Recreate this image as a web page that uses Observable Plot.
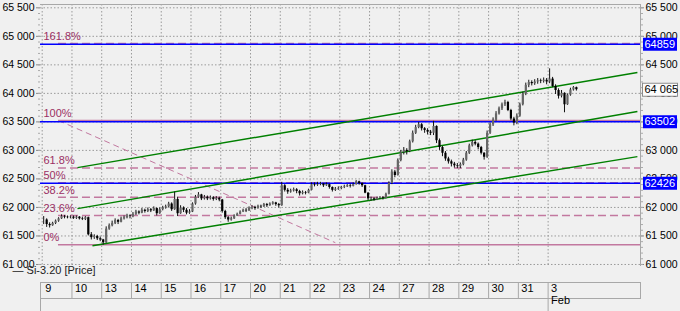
<!DOCTYPE html>
<html><head><meta charset="utf-8">
<script src="https://cdn.jsdelivr.net/npm/d3@7"></script>
<script src="https://cdn.jsdelivr.net/npm/@observablehq/plot@0.6"></script>
<style>
html,body{margin:0;padding:0;background:#f0f0f0;}
#chart svg{display:block;}
</style></head><body><div id="chart"></div>
<script>
// ---- data ----
const dayLabels = ["9","10","13","14","15","16","17","20","21","22","23","24","27","28","29","30","31","3"];
const monthLabel = "Feb";
const seriesName = "Si-3.20 [Price]";
const firstOpen = 61780;
const closes = [
 [61780,61700,61680,61720,61760,61800,61840,61830,61820,61830],
 [61810,61830,61800,61790,61820,61520,61470,61490,61450,61430],
 [61380,61620,61680,61720,61770,61740,61800,61820,61850,61840],
 [61880,61920,61900,61950,61930,61960,61940,61980,61890,61960],
 [61990,62010,62060,61960,62140,61890,61990,61950,61900,61920],
 [62060,62180,62220,62150,62180,62150,62170,62140,62160,62130],
 [61930,61820,61780,61800,61850,61880,61920,61950,61940,61990],
 [62000,61980,62020,62010,62050,62030,62060,62080,62050,62030],
 [62380,62300,62270,62290,62310,62280,62240,62260,62250,62300],
 [62400,62390,62400,62410,62380,62400,62350,62300,62320,62330],
 [62350,62360,62380,62370,62400,62450,62420,62380,62250,62150],
 [62150,62130,62160,62170,62160,62230,62420,62620,62560,62820],
 [62960,63000,62980,63150,63300,63400,63450,63380,63350,63320],
 [63300,63420,63170,63050,62950,62850,62800,62760,62730,62720],
 [62750,62830,62950,63080,63140,63110,63050,62950,62880,63300],
 [63450,63530,63640,63730,63800,63840,63700,63550,63480,63600],
 [63800,63990,64140,64190,64170,64200,64220,64210,64230,64200],
 [64250,64120,64050,63950,64000,63800,63970,64060,64100,64065]
];
const highs = [
 [61840,61800,61730,61740,61780,61820,61870,61860,61850,61850],
 [61850,61850,61840,61830,61840,61830,61560,61520,61510,61480],
 [61440,61660,61710,61760,61800,61790,61830,61850,61880,61870],
 [61910,61950,61940,61980,61970,61990,61980,62010,61990,61990],
 [62020,62040,62090,62080,62270,62180,62030,62010,61980,61960],
 [62080,62210,62260,62230,62210,62200,62200,62190,62190,62180],
 [62140,61950,61840,61830,61870,61900,61940,61970,61980,62010],
 [62030,62020,62040,62040,62070,62070,62080,62100,62090,62070],
 [62440,62400,62330,62320,62340,62330,62300,62290,62280,62320],
 [62430,62430,62440,62440,62420,62430,62410,62360,62350,62360],
 [62370,62390,62400,62410,62430,62470,62460,62430,62390,62260],
 [62180,62170,62180,62190,62190,62250,62450,62660,62650,62850],
 [63000,63050,63030,63180,63340,63440,63490,63470,63400,63380],
 [63350,63510,63430,63200,63070,62980,62880,62830,62790,62770],
 [62780,62860,62980,63110,63180,63170,63130,63070,62960,63340],
 [63480,63570,63680,63760,63830,63880,63860,63720,63580,63640],
 [63830,64020,64180,64230,64220,64240,64260,64250,64270,64260],
 [64430,64280,64150,64080,64050,64010,63990,64090,64120,64110]
];
const lows = [
 [61700,61650,61640,61670,61700,61740,61790,61800,61800,61800],
 [61790,61790,61780,61770,61770,61500,61430,61440,61420,61400],
 [61340,61370,61600,61660,61700,61700,61730,61780,61800,61800],
 [61820,61860,61870,61890,61900,61910,61910,61930,61850,61880],
 [61940,61970,61990,61930,61950,61840,61880,61910,61870,61880],
 [61910,62040,62160,62120,62130,62120,62130,62110,62120,62100],
 [61900,61790,61740,61760,61790,61840,61870,61910,61910,61930],
 [61960,61950,61970,61980,62000,62000,62020,62040,62020,61990],
 [62020,62270,62230,62250,62270,62240,62200,62220,62220,62240],
 [62290,62360,62370,62380,62350,62370,62320,62270,62280,62300],
 [62310,62330,62350,62340,62360,62390,62390,62350,62240,62120],
 [62110,62110,62120,62140,62130,62150,62220,62400,62520,62550],
 [62800,62920,62920,62960,63130,63280,63380,63340,63300,63270],
 [63260,63260,63120,63000,62890,62810,62760,62710,62690,62680],
 [62680,62730,62810,62930,63060,63080,63010,62920,62830,62860],
 [63280,63420,63510,63620,63700,63770,63680,63520,63430,63450],
 [63580,63780,63960,64100,64130,64140,64160,64170,64180,64150],
 [64170,64100,63980,63900,63920,63660,63790,63950,64040,64040]
];
const yTicks = [61000,61500,62000,62500,63000,63500,64000,64500,65000,65500];
const fibPercents = [0, 23.6, 38.2, 50, 61.8, 100, 161.8];
const fibSolid = [0, 100];
const fibLow = 61345, fibHigh = 63525;
const fibStartDay = 0.547;
const fibDiagonal = [{x1: 0.547, y1: 63525, x2: 9.85, y2: 61382}];
const channelLines = [
 {x1: 1.186, y1: 62698, x2: 20.0, y2: 64365},
 {x1: 1.186, y1: 61979, x2: 20.0, y2: 63681},
 {x1: 1.69,  y1: 61330, x2: 20.0, y2: 62891}
];
const blueLevels = [64859, 63502, 62426];
const lastPrice = 64065;

// ---- derived ----
const bars = [];
let prev = firstOpen;
closes.forEach((day, k) => day.forEach((c, j) => {
  bars.push({x: k + (j + 0.5) / 10, o: prev, h: highs[k][j], l: lows[k][j], c});
  prev = c;
}));
const fibs = fibPercents.map(p => ({p, v: fibLow + p / 100 * (fibHigh - fibLow), label: p + "%"}));
const fibsSolid = fibs.filter(d => fibSolid.includes(d.p));
const fibsDashed = fibs.filter(d => !fibSolid.includes(d.p));
const xDomain = [-0.057, 20.104];
const fmt = v => d3.format(",")(v).replace(/,/g, " ");
const grid = "#9a9a9a", frameC = "#a8a8a8";
const pink = "#c2789f", pinkText = "#9b2f63";
const dayIdx = dayLabels.map((d, i) => i);
const minorTicks = d3.range(61000, 65560, 100);

const chart = Plot.plot({
  width: 680, height: 311,
  marginTop: 4, marginBottom: 46, marginLeft: 40, marginRight: 40,
  x: {domain: xDomain, axis: null},
  y: {domain: [60982, 65558], axis: null},
  style: {background: "transparent", fontFamily: "'Liberation Sans', Arial, sans-serif", fontSize: "10.5px", color: "#000"},
  marks: [
    // grid
    Plot.ruleY(yTicks, {stroke: grid, strokeDasharray: "1.5,2"}),
    Plot.ruleX(dayIdx, {stroke: grid, strokeDasharray: "1.5,2"}),
    Plot.frame({anchor: "top", stroke: frameC}),
    Plot.frame({anchor: "right", stroke: frameC}),
    // fib levels
    Plot.ruleY(fibsDashed, {y: "v", x1: fibStartDay, x2: xDomain[1], stroke: pink, strokeWidth: 1.5, strokeDasharray: "8,4"}),
    Plot.ruleY(fibsSolid, {y: "v", x1: fibStartDay, x2: xDomain[1], stroke: pink, strokeWidth: 1.5}),
    Plot.link(fibDiagonal, {x1: "x1", y1: "y1", x2: "x2", y2: "y2", stroke: pink, strokeWidth: 1, strokeDasharray: "6,4"}),
    Plot.text(fibs, {y: "v", text: "label", frameAnchor: "left", dx: 3, dy: -7, textAnchor: "start", fill: pinkText, fontSize: 11}),
    // blue lines
    Plot.ruleY(blueLevels, {stroke: "#0000ff", strokeWidth: 1.5}),
    // channel
    Plot.link(channelLines, {x1: "x1", y1: "y1", x2: "x2", y2: "y2", stroke: "#008000", strokeWidth: 1.5}),
    // candles
    Plot.ruleX(bars, {x: "x", y1: "l", y2: "h", stroke: "#111", strokeWidth: 1}),
    Plot.ruleX(bars, {x: "x", y1: "o", y2: "c", stroke: d => d.c >= d.o ? "#666" : "#000", strokeWidth: 2.2}),
    // axes
    Plot.axisY(yTicks, {anchor: "left", tickSize: 4, tickPadding: 2, tickFormat: fmt, stroke: "#888"}),
    Plot.axisY(yTicks, {anchor: "right", tickSize: 3, tickPadding: 2, tickFormat: fmt, stroke: "#888"}),
    Plot.axisY(minorTicks, {anchor: "left", tickSize: 2, tickFormat: () => "", stroke: "#aaa"}),
    Plot.axisY(minorTicks, {anchor: "right", tickSize: 2, tickFormat: () => "", stroke: "#aaa"}),
    // price badges
    Plot.ruleY(blueLevels, {stroke: "#0000ff", strokeWidth: 13, insetLeft: 603, insetRight: -37}),
    Plot.text(blueLevels, {y: d => d, text: d => String(d), frameAnchor: "right", dx: 4, textAnchor: "start", fill: "white", fontSize: 11}),
    Plot.ruleY([lastPrice], {stroke: "#8c8c8c", strokeWidth: 14, insetLeft: 602, insetRight: -38}),
    Plot.ruleY([lastPrice], {stroke: "#fbfbfb", strokeWidth: 12, insetLeft: 603, insetRight: -37}),
    Plot.text([lastPrice], {y: d => d, text: fmt, frameAnchor: "right", dx: 4, textAnchor: "start", fill: "#000", fontSize: 11}),
    // legend
    Plot.text([`\u2014 ${seriesName}`], {frameAnchor: "bottom-left", dx: -28, dy: 8, textAnchor: "start", fill: "#222", fontSize: 11}),
    // date row
    Plot.frame({stroke: frameC, insetTop: 278, insetBottom: -33}),
    Plot.ruleX(dayIdx.slice(1, -1), {stroke: frameC, insetTop: 278, insetBottom: -33}),
    Plot.ruleX([dayIdx.length - 1], {stroke: frameC, insetTop: 278, insetBottom: -46}),
    Plot.ruleX([xDomain[0]], {stroke: frameC, insetTop: 278, insetBottom: -46}),
    Plot.text(dayLabels, {x: (d, i) => i, text: d => d, frameAnchor: "bottom", dy: 26, dx: 3, textAnchor: "start", fill: "#000", fontSize: 11}),
    Plot.text([monthLabel], {x: () => dayLabels.length - 1, text: d => d, frameAnchor: "bottom", dy: 38, dx: 3, textAnchor: "start", fill: "#000", fontSize: 11})
  ]
});
document.getElementById("chart").append(chart);
</script>
</body></html>
